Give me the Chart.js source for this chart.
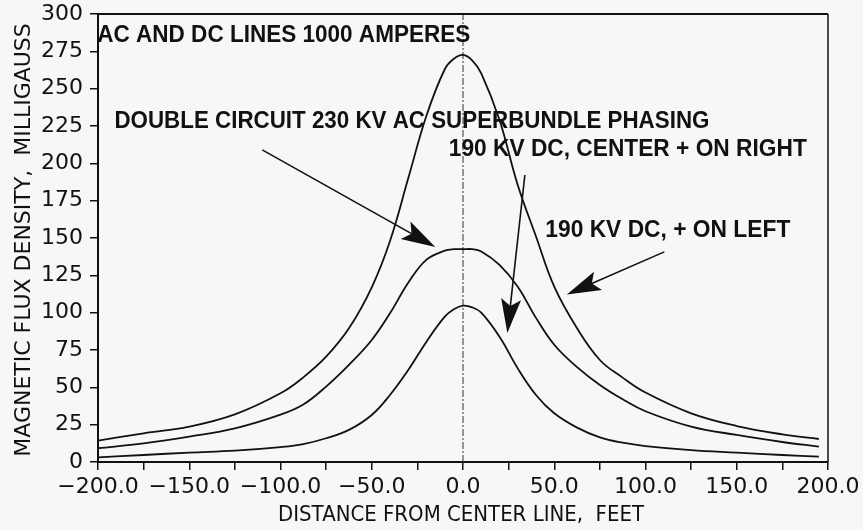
<!DOCTYPE html>
<html>
<head>
<meta charset="utf-8">
<script src="https://cdn.jsdelivr.net/npm/chart.js@4.4.1/dist/chart.umd.min.js"></script>
<style>
  html, body { margin: 0; padding: 0; background: #f7f7f7; }
  #wrap { width: 863px; height: 530px; }
</style>
</head>
<body>
<div id="wrap"><canvas id="fluxChart" width="863" height="530"></canvas></div>
<script>
// distance from center line (feet)
const distances = [-200, -175, -150, -125, -100, -87.5, -75, -62.5, -50, -40, -30, -20, -10, -5, 0,
                   5, 10, 20, 30, 40, 50, 62.5, 75, 87.5, 100, 125, 150, 175, 195];

// 190 KV DC, + on left (highest curve)
const dcPlusLeft = [14.3, 19.2, 23.7, 31.9, 46, 56.7, 70.5, 89.5, 117, 148, 190, 232, 263, 270, 272.6,
                    269, 260.3, 229, 185.5, 151, 117.4, 89.5, 68.3, 56.5, 46.5, 32.6, 24.1, 18.5, 15.4];

// double circuit 230 KV AC superbundle phasing (middle curve)
const acSuperbundle = [9.2, 12.5, 17, 22.5, 31.7, 38.5, 50.5, 65, 81.7, 99.6, 120, 135.5, 141.5, 142.5, 142.5,
                       142.5, 141, 132, 117.4, 96.5, 78.5, 63.5, 51.6, 42, 34, 23.7, 18.1, 13.4, 10.3];

// 190 KV DC, center + on right (lowest curve)
const dcCenterRight = [3.1, 4.7, 6.3, 7.6, 10, 12, 15.9, 21.5, 31.5, 44.9, 61.6, 80.6, 97.3, 102.3, 104.7,
                       103.6, 100, 83.9, 62.7, 44.9, 32.6, 23, 16.5, 12.9, 10.7, 8, 6.3, 4.7, 3.6];

const yTickValues = [0, 25, 50, 75, 100, 125, 150, 175, 200, 225, 250, 275, 300];
const xTickValues = [-200, -150, -100, -50, 0, 50, 100, 150, 200];
const xTickLabels = ['\u2212200.0', '\u2212150.0', '\u2212100.0', '\u221250.0', '0.0', '50.0', '100.0', '150.0', '200.0'];

const xTitle = 'DISTANCE FROM CENTER LINE,  FEET';
const yTitle = 'MAGNETIC FLUX DENSITY,  MILLIGAUSS';

// notes drawn on the plot: [text, x at left edge, y at middle, width in px]
const notes = [
  ['AC AND DC LINES 1000 AMPERES', -200.4, 285.3, 373],
  ['DOUBLE CIRCUIT 230 KV AC SUPERBUNDLE PHASING', -191, 227.7, 595],
  ['190 KV DC, CENTER + ON RIGHT', -7.8, 209, 358],
  ['190 KV DC, + ON LEFT', 45.1, 154.7, 245]
];
// arrows: [fromX, fromY, toX, toY] in data units
const arrows = [
  [-110, 209, -15.2, 144],
  [33.9, 192.2, 24.3, 86.4],
  [110.3, 140.7, 56.9, 112.2]
];

function toPoints(ys) {
  return distances.map((d, i) => ({ x: d, y: ys[i] }));
}

const INK = '#111';

const framePlugin = {
  id: 'frame',
  beforeDraw(chart) {
    const ctx = chart.ctx;
    ctx.save();
    ctx.fillStyle = '#f7f7f7';
    ctx.fillRect(0, 0, chart.width, chart.height);
    ctx.restore();
  },
  afterDraw(chart) {
    const { ctx, chartArea: a, scales } = chart;
    ctx.save();
    ctx.strokeStyle = INK;
    ctx.lineWidth = 2;
    ctx.beginPath();
    ctx.moveTo(a.left, a.top);
    ctx.lineTo(a.right, a.top);
    ctx.stroke();
    ctx.lineWidth = 1.5;
    ctx.beginPath();
    ctx.moveTo(a.right, a.top);
    ctx.lineTo(a.right, a.bottom);
    ctx.stroke();

    // axis titles (squeezed like the plotter lettering)
    ctx.fillStyle = INK;
    ctx.font = '22px "DejaVu Sans", sans-serif';
    ctx.textAlign = 'center';
    ctx.textBaseline = 'middle';
    ctx.fillText(xTitle, (a.left + a.right) / 2 - 2, 515, 366);
    ctx.save();
    ctx.translate(24, 240);
    ctx.rotate(-Math.PI / 2);
    ctx.fillText(yTitle, 0, 0, 448);
    ctx.restore();

    // text notes
    ctx.font = 'bold 23px "Liberation Sans", Arial, sans-serif';
    ctx.textAlign = 'left';
    notes.forEach(([txt, x, y, w]) => {
      ctx.fillText(txt, scales.x.getPixelForValue(x), scales.y.getPixelForValue(y), w);
    });

    // arrows
    arrows.forEach(([x0, y0, x1, y1]) => {
      const px0 = scales.x.getPixelForValue(x0), py0 = scales.y.getPixelForValue(y0);
      const px1 = scales.x.getPixelForValue(x1), py1 = scales.y.getPixelForValue(y1);
      const ang = Math.atan2(py1 - py0, px1 - px0);
      const len = 34, half = 10;
      const c = Math.cos(ang), s = Math.sin(ang);
      ctx.lineWidth = 1.6;
      ctx.beginPath();
      ctx.moveTo(px0, py0);
      ctx.lineTo(px1 - c * len * 0.8, py1 - s * len * 0.8);
      ctx.stroke();
      ctx.beginPath();
      ctx.moveTo(px1, py1);
      ctx.lineTo(px1 - c * len - s * half, py1 - s * len + c * half);
      ctx.lineTo(px1 - c * len * 0.8, py1 - s * len * 0.8);
      ctx.lineTo(px1 - c * len + s * half, py1 - s * len - c * half);
      ctx.closePath();
      ctx.fill();
    });
    ctx.restore();
  }
};

const curveStyle = {
  borderColor: INK,
  borderWidth: 1.8,
  pointRadius: 0,
  fill: false,
  tension: 0.4
};

new Chart(document.getElementById('fluxChart'), {
  type: 'line',
  data: {
    datasets: [
      { label: '190 KV DC, + ON LEFT', data: toPoints(dcPlusLeft), ...curveStyle },
      { label: 'DOUBLE CIRCUIT 230 KV AC SUPERBUNDLE PHASING', data: toPoints(acSuperbundle), ...curveStyle },
      { label: '190 KV DC, CENTER + ON RIGHT', data: toPoints(dcCenterRight), ...curveStyle },
      {
        label: 'center line',
        data: [{ x: 0, y: 0 }, { x: 0, y: 300 }],
        borderColor: '#333',
        borderWidth: 1,
        borderDash: [7, 2, 2, 2],
        pointRadius: 0,
        fill: false
      }
    ]
  },
  options: {
    responsive: false,
    animation: false,
    devicePixelRatio: 1,
    layout: { padding: { top: 14, right: 35, left: 0, bottom: 0 } },
    plugins: { legend: { display: false }, tooltip: { enabled: false } },
    scales: {
      x: {
        type: 'linear',
        min: -200,
        max: 200,
        afterFit(scale) {
          scale.height = 68;
          scale.paddingLeft = 0;
          scale.paddingRight = 0;
        },
        afterBuildTicks(scale) {
          scale.ticks = [];
          for (let v = -200; v <= 200; v += 25) scale.ticks.push({ value: v });
        },
        grid: { drawOnChartArea: false, drawTicks: true, tickLength: 8, color: INK, lineWidth: 1.5 },
        border: { display: true, color: INK, width: 2 },
        ticks: {
          autoSkip: false,
          maxRotation: 0,
          padding: 4,
          color: INK,
          font: { family: '"DejaVu Sans", sans-serif', size: 22 },
          callback(v) {
            const i = xTickValues.indexOf(v);
            return i >= 0 ? xTickLabels[i] : '';
          }
        }
      },
      y: {
        min: 0,
        max: 300,
        afterFit(scale) {
          scale.width = 98;
          scale.paddingTop = 0;
          scale.paddingBottom = 0;
        },
        afterBuildTicks(scale) {
          scale.ticks = yTickValues.map(v => ({ value: v }));
        },
        grid: { drawOnChartArea: false, drawTicks: true, tickLength: 8, color: INK, lineWidth: 1.5 },
        border: { display: true, color: INK, width: 2 },
        ticks: {
          padding: 7,
          color: INK,
          font: { family: '"DejaVu Sans", sans-serif', size: 22 }
        }
      }
    }
  },
  plugins: [framePlugin]
});
</script>
</body>
</html>
